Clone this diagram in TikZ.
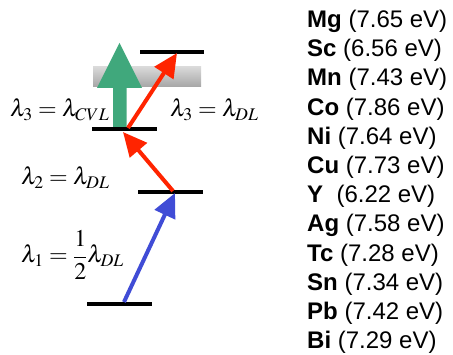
\documentclass[tikz,border=0pt]{standalone}
\usepackage{mathptmx}
\usepackage[no-math]{fontspec}
\setmainfont{Liberation Sans}
\usetikzlibrary{arrows.meta}
\definecolor{cvlgreen}{RGB}{64,168,124}
\definecolor{dlred}{RGB}{255,36,0}
\definecolor{pumpblue}{RGB}{64,76,214}
\begin{document}
\begin{tikzpicture}[x=1pt,y=-1pt,
  level/.style={line width=4pt,black},
  laser/.style={line width=4pt,-{Triangle[length=24pt,width=22pt]}},
  eqlabel/.style={anchor=base west,inner sep=0pt,font=\fontsize{24}{29}\selectfont},
  elem/.style={anchor=base west,inner sep=0pt,font=\fontsize{24}{29}\selectfont}]
\useasboundingbox (0,0) rectangle (453,355);
% continuum band
\shade[top color=gray!30,middle color=gray!12,bottom color=gray!70] (93,67) rectangle (201,87);
% green CVL arrow
\fill[cvlgreen] (113,129) -- (113,88) -- (97,88) -- (119.5,43) -- (142,88) -- (126.5,88) -- (126.5,129) -- cycle;
% named end points
\coordinate (L1) at (124,302);
\coordinate (L2a) at (175,193);
\coordinate (L2b) at (173,191);
\coordinate (L3a) at (123,132);
\coordinate (L3b) at (128,128);
\coordinate (L4) at (177,53);
% levels
\draw[level] (140,52) -- (204,52);
\draw[level] (92,129) -- (157,129);
\draw[level] (138,192) -- (203,192);
\draw[level] (87,304) -- (152,304);
% arrows
\draw[laser,pumpblue] (L1) -- (L2a);
\draw[laser,dlred] (L2b) -- (L3a);
\draw[laser,dlred] (L3b) -- (L4);
% labels
\node[eqlabel] (q3a) at (10,117) {$\lambda_3=\lambda_{CVL}$};
\node[eqlabel] (q3b) at (170,117) {$\lambda_3=\lambda_{DL}$};
\node[eqlabel] (q2) at (21,185) {$\lambda_2=\lambda_{DL}$};
\node[eqlabel] (q1) at (21,263) {$\lambda_1=\displaystyle\frac{1}{2}\lambda_{DL}$};
% element list
\foreach \t [count=\i from 0] in {{\textbf{Mg} (7.65 eV)},{\textbf{Sc} (6.56 eV)},{\textbf{Mn} (7.43 eV)},{\textbf{Co} (7.86 eV)},{\textbf{Ni} (7.64 eV)},{\textbf{Cu} (7.73 eV)},{\textbf{Y}\ \ (6.22 eV)},{\textbf{Ag} (7.58 eV)},{\textbf{Tc} (7.28 eV)},{\textbf{Sn} (7.34 eV)},{\textbf{Pb} (7.42 eV)},{\textbf{Bi} (7.29 eV)}}
  \node[elem] (e\i) at (307,27.5+29.2*\i) {\t};
\end{tikzpicture}
\end{document}
